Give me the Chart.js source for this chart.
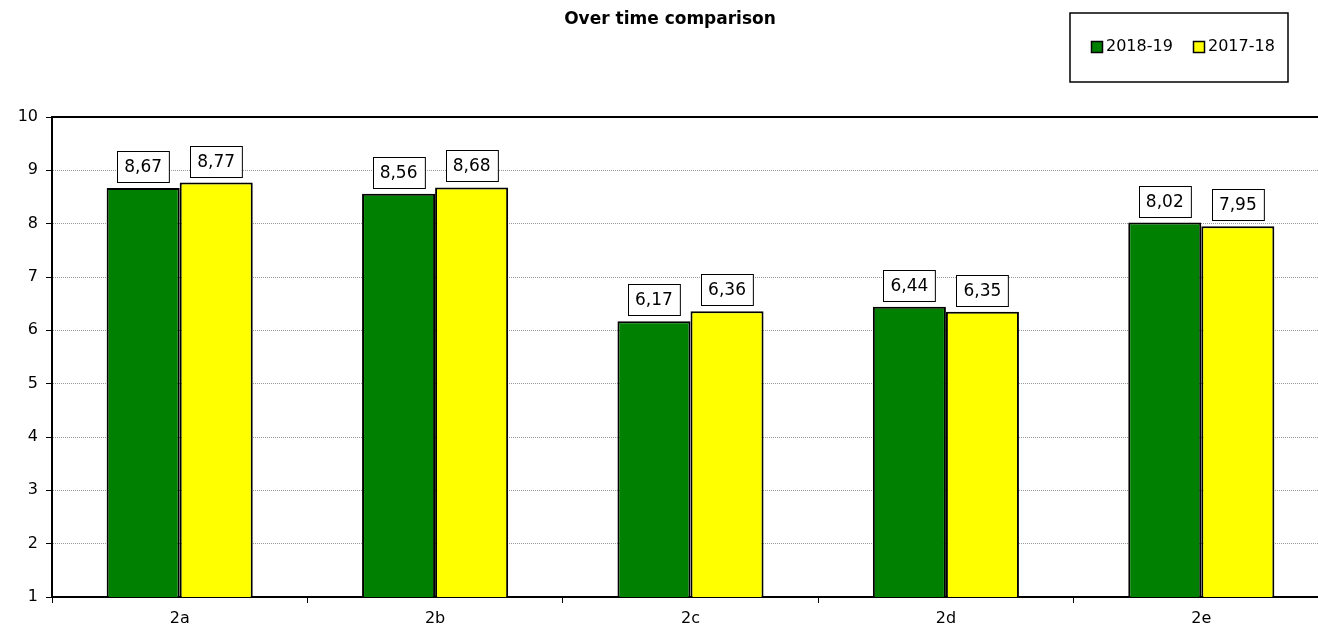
<!DOCTYPE html>
<html>
<head>
<meta charset="utf-8">
<script src="https://cdn.jsdelivr.net/npm/chart.js@4"></script>
<style>
  html, body { margin: 0; padding: 0; background: #fff; overflow: hidden; }
  #wrap { width: 1318px; height: 634px; overflow: hidden; }
</style>
</head>
<body>
<div id="wrap"><canvas id="cmpChart" width="1330" height="634"></canvas></div>
<script>
// Chart data
const categories = ['2a', '2b', '2c', '2d', '2e'];
const seriesNames = ['2018-19', '2017-18'];
const values2018 = [8.67, 8.56, 6.17, 6.44, 8.02];
const values2017 = [8.77, 8.68, 6.36, 6.35, 7.95];
const seriesColors = ['#008000', '#ffff00'];
const yTicks = [1, 2, 3, 4, 5, 6, 7, 8, 9, 10];

const FONT = "'Comic Sans MS', 'DejaVu Sans', sans-serif";

// Title, plot frame, value boxes and legend box
const decorPlugin = {
    id: 'decor',
    afterDraw(chart) {
        const ctx = chart.ctx;
        const area = chart.chartArea;
        ctx.save();

        // top edge of the plot area (the plot runs off the right side)
        ctx.strokeStyle = '#000';
        ctx.lineWidth = 2;
        ctx.beginPath();
        ctx.moveTo(area.left, area.top);
        ctx.lineTo(area.right, area.top);
        ctx.stroke();

        // title
        ctx.fillStyle = '#000';
        ctx.font = 'bold 17px ' + FONT;
        ctx.textAlign = 'center';
        ctx.textBaseline = 'middle';
        ctx.fillText('Over time comparison', 670, 20);

        // value labels
        ctx.font = '17px ' + FONT;
        chart.data.datasets.forEach((ds, i) => {
            chart.getDatasetMeta(i).data.forEach((bar, j) => {
                const txt = ds.data[j].toFixed(2).replace('.', ',');
                const w = ctx.measureText(txt).width + 14;
                const h = 31;
                const bx = Math.round(bar.x - w / 2);
                const by = Math.round(bar.y - 6 - h);
                ctx.fillStyle = '#fff';
                ctx.fillRect(bx, by, w, h);
                ctx.lineWidth = 1;
                ctx.strokeStyle = '#000';
                ctx.strokeRect(bx + 0.5, by + 0.5, w, h);
                ctx.fillStyle = '#000';
                ctx.fillText(txt, bar.x, by + h / 2 + 1);
            });
        });

        // legend
        ctx.lineWidth = 1.5;
        ctx.strokeRect(1070, 13, 218, 69);
        ctx.textAlign = 'left';
        ctx.font = '16px ' + FONT;
        let lx = 1091;
        chart.data.datasets.forEach((ds) => {
            ctx.fillStyle = ds.backgroundColor;
            ctx.fillRect(lx, 41, 11, 11);
            ctx.lineWidth = 1.5;
            ctx.strokeStyle = '#000';
            ctx.strokeRect(lx + 0.5, 41.5, 11, 11);
            ctx.fillStyle = '#000';
            ctx.fillText(ds.label, lx + 15, 47);
            lx += 102;
        });
        ctx.restore();
    }
};

new Chart(document.getElementById('cmpChart'), {
    type: 'bar',
    data: {
        labels: categories,
        datasets: [
            { label: seriesNames[0], data: values2018, backgroundColor: seriesColors[0] },
            { label: seriesNames[1], data: values2017, backgroundColor: seriesColors[1] }
        ]
    },
    options: {
        responsive: false,
        animation: false,
        layout: { padding: { top: 117, right: 1, left: 0, bottom: 0 } },
        datasets: {
            bar: {
                borderColor: '#000',
                borderWidth: 2,
                borderSkipped: 'bottom',
                categoryPercentage: 0.572,
                barPercentage: 1
            }
        },
        plugins: {
            legend: { display: false },
            title: { display: false },
            tooltip: { enabled: false }
        },
        scales: {
            x: {
                afterFit: s => { s.height = 37; },
                grid: {
                    drawOnChartArea: false,
                    drawTicks: true,
                    tickLength: 6,
                    tickColor: '#000'
                },
                border: { color: '#000', width: 2 },
                ticks: { color: '#000', font: { family: FONT, size: 16 }, padding: 6 }
            },
            y: {
                min: 1,
                max: 10,
                afterFit: s => { s.width = 52; },
                afterBuildTicks: s => { s.ticks = yTicks.map(v => ({ value: v })); },
                grid: {
                    color: '#999',
                    lineWidth: 1,
                    tickLength: 6,
                    tickColor: '#000',
                    tickBorderDash: []
                },
                border: { color: '#000', width: 2, dash: [1, 1] },
                ticks: { color: '#000', font: { family: FONT, size: 16 }, padding: 8 }
            }
        }
    },
    plugins: [decorPlugin]
});
</script>
</body>
</html>
